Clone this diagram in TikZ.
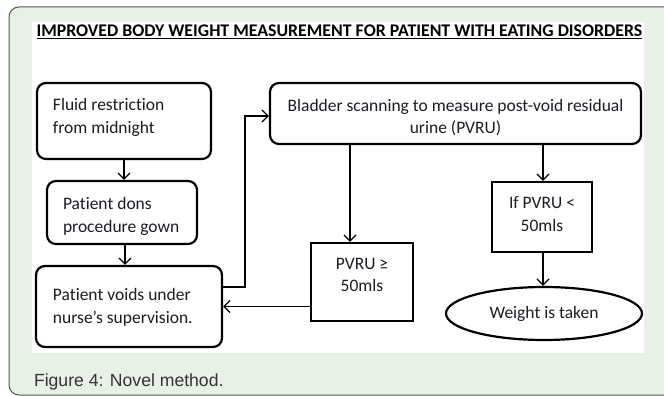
\documentclass[tikz,border=0pt]{standalone}
\usepackage{fontspec}
\setmainfont{Carlito}[Ligatures=NoCommon]
\newfontfamily\legendafont{Liberation Sans}
\usepackage{tikz}
\usetikzlibrary{arrows.meta,
                    shapes.geometric,
                    calc}
\definecolor{fundoverde}{RGB}{232,241,230}
\definecolor{texto}{RGB}{28,28,36}
\definecolor{moldura}{RGB}{85,85,85}
\tikzset{
caixa/.style={draw=black, line width=2.2pt, rounded corners=9pt, inner sep=0pt, text=texto}
         }
\tikzset{
quadro/.style={draw=black, line width=2.2pt, inner sep=0pt, text=texto}
         }
\tikzset{
seta/.style={-{Straight Barb[length=6pt,width=12pt]}, line width=1.3pt}
         }

\begin{document}
\begin{tikzpicture}[x=1pt,y=-1pt]
    \useasboundingbox (0,0) rectangle (664,396);

        % FUNDO
    \path[draw=moldura,line width=1pt,fill=fundoverde,rounded corners=10pt] (9,7) rectangle (700,395);
    \path[fill=white] (32,22) rectangle (644,353);

        % TITULO
    \node[anchor=base west,text=black,font=\fontsize{17.8}{20}\selectfont\bfseries] (titulo) at (33,37)
        {\underline{IMPROVED BODY WEIGHT MEASUREMENT FOR PATIENT WITH EATING DISORDERS}};

    \fontsize{17.5}{23}\selectfont

        % COLUNA DA ESQUERDA
    \node[caixa] (fluido) at (124,121)
        {\parbox[c][76pt][t]{174pt}{\vspace{15pt}\hspace*{16pt}Fluid restriction\\\hspace*{16pt}from midnight}};
    \node[caixa] (avental) at (122,212.5)
        {\parbox[c][63pt][t]{150pt}{\vspace{16pt}\hspace*{16pt}Patient dons\\\hspace*{16pt}procedure gown}};
    \node[caixa] (micao) at (129,306.5)
        {\parbox[c][81pt][t]{186pt}{\vspace{22pt}\hspace*{17pt}Patient voids under\\\hspace*{17pt}nurse's supervision.}};

    \draw[seta] (fluido.south) -- (fluido.south |- avental.north);
    \draw[seta] ([xshift=3pt]avental.south) -- ([xshift=3pt]avental.south |- micao.north);

        % COLUNA DA DIREITA
    \node[caixa] (bexiga) at (455.5,113.5)
        {\parbox[c][61pt][t]{371pt}{\centering\vspace{16pt}Bladder scanning to measure post-void residual\\[-1pt]urine (PVRU)}};
    \node[quadro] (maior) at (362,282)
        {\parbox[c][78pt][t]{102pt}{\centering\vspace{15pt}PVRU ≥\\[-1pt]50mls}};
    \node[quadro] (menor) at (542,217)
        {\parbox[c][70pt][t]{100pt}{\centering\vspace{15pt}If PVRU <\\50mls}};
    \node[draw=black,line width=2.2pt,ellipse,inner sep=0pt,minimum width=196pt,minimum height=53pt,text=texto] (peso) at (544,313.5)
        {Weight is taken};

        % SETAS
    \coordinate (canto) at (245,116);
    \draw[seta] ([yshift=19.5pt]micao.east) -| (canto) -- (canto -| bexiga.west);
    \draw[seta] (micao.east -| maior.west) -- (micao.east);
    \draw[seta] ([xshift=-12pt]maior.north |- bexiga.south) -- ([xshift=-12pt]maior.north);
    \draw[seta] ([xshift=1pt]menor.north |- bexiga.south) -- ([xshift=1pt]menor.north);
    \draw[seta] ([xshift=1pt]menor.south) -- ([xshift=1pt]menor.south |- peso.north);

        % LEGENDA
    \node[anchor=base west,text=black!80,font=\legendafont\fontsize{17.6}{20}\selectfont] (legenda) at (28,386)
        {Figure 4: Novel method.};

\end{tikzpicture}
\end{document}
